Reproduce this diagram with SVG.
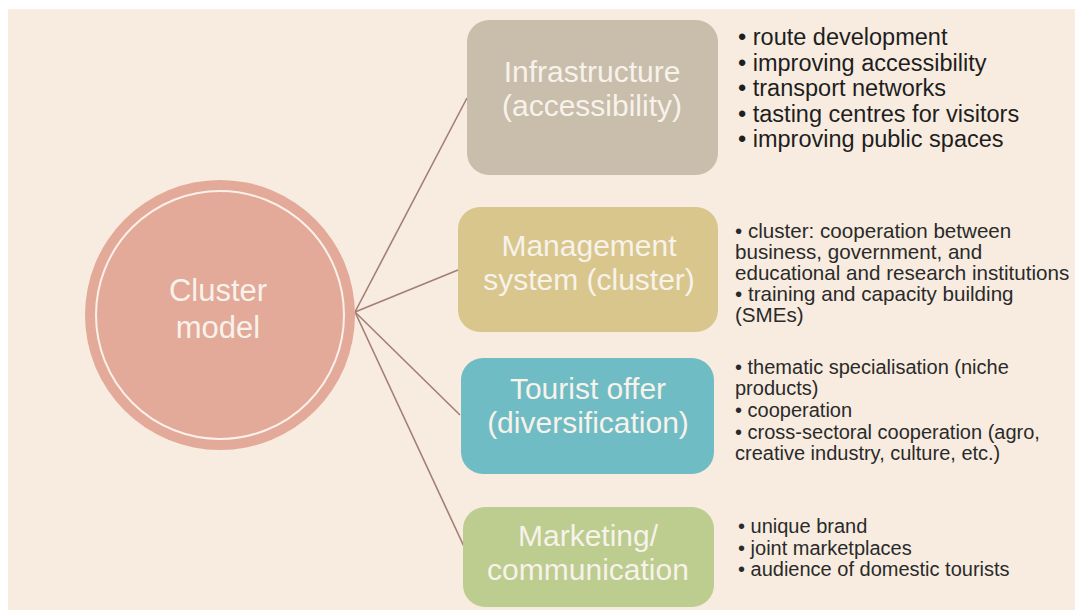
<svg xmlns="http://www.w3.org/2000/svg" width="1075" height="610" viewBox="0 0 1075 610">
<style>
.bg{fill:#f8ece0}
.box{stroke:none}
.lbl{font-family:"Liberation Sans",Arial,sans-serif;font-size:30px;fill:#f7f2ea;text-anchor:middle}
.big{font-family:"Liberation Sans",Arial,sans-serif;font-size:23.5px;fill:#1e1e1e}
.sm{font-family:"Liberation Sans",Arial,sans-serif;font-size:20px;fill:#2a2a2a}
.con{stroke:#a27e77;stroke-width:1.6;fill:none}
</style>
<rect x="0" y="0" width="1075" height="610" fill="#ffffff"/>
<rect class="bg" x="8" y="9" width="1067" height="601"/>
<g id="connectors">
<line class="con" x1="355" y1="312" x2="467" y2="98"/>
<line class="con" x1="355" y1="312" x2="458" y2="270"/>
<line class="con" x1="355" y1="312" x2="460" y2="415"/>
<line class="con" x1="355" y1="312" x2="467" y2="553"/>
</g>
<g id="cluster-model">
<circle cx="220" cy="315" r="135" fill="#e3a999"/>
<circle cx="220" cy="315" r="124" fill="none" stroke="#fbf1ea" stroke-width="2"/>
<text class="lbl" x="218" y="301" style="font-size:31px">Cluster</text>
<text class="lbl" x="218" y="338" style="font-size:31px">model</text>
</g>
<g id="infrastructure">
<rect class="box" x="467" y="20" width="251" height="155" rx="22" fill="#c9bdac"/>
<text class="lbl" x="592" y="82">Infrastructure</text>
<text class="lbl" x="592" y="116">(accessibility)</text>
<text class="big" x="738" y="45">• route development</text>
<text class="big" x="738" y="70.5">• improving accessibility</text>
<text class="big" x="738" y="96">• transport networks</text>
<text class="big" x="738" y="121.5">• tasting centres for visitors</text>
<text class="big" x="738" y="147">• improving public spaces</text>
</g>
<g id="management">
<rect class="box" x="458" y="207" width="260" height="125" rx="22" fill="#d9c68c"/>
<text class="lbl" x="589" y="256">Management</text>
<text class="lbl" x="589" y="290">system (cluster)</text>
<text class="sm" x="735" y="238" style="font-size:20.6px">• cluster: cooperation between</text>
<text class="sm" x="735" y="259" style="font-size:20.6px">business, government, and</text>
<text class="sm" x="735" y="280" style="font-size:20.6px">educational and research institutions</text>
<text class="sm" x="735" y="301" style="font-size:20.6px">• training and capacity building</text>
<text class="sm" x="735" y="322" style="font-size:20.6px">(SMEs)</text>
</g>
<g id="tourist-offer">
<rect class="box" x="461" y="358" width="253" height="116" rx="22" fill="#6fbcc5"/>
<text class="lbl" x="588" y="399">Tourist offer</text>
<text class="lbl" x="588" y="433">(diversification)</text>
<text class="sm" x="735" y="374">• thematic specialisation (niche</text>
<text class="sm" x="735" y="395">products)</text>
<text class="sm" x="735" y="417">• cooperation</text>
<text class="sm" x="735" y="439">• cross-sectoral cooperation (agro,</text>
<text class="sm" x="735" y="460">creative industry, culture, etc.)</text>
</g>
<g id="marketing">
<rect class="box" x="463" y="507" width="251" height="100" rx="22" fill="#bdcc8f"/>
<text class="lbl" x="588" y="546">Marketing/</text>
<text class="lbl" x="588" y="580">communication</text>
<text class="sm" x="738" y="533">• unique brand</text>
<text class="sm" x="738" y="554.5">• joint marketplaces</text>
<text class="sm" x="738" y="576">• audience of domestic tourists</text>
</g>
</svg>
